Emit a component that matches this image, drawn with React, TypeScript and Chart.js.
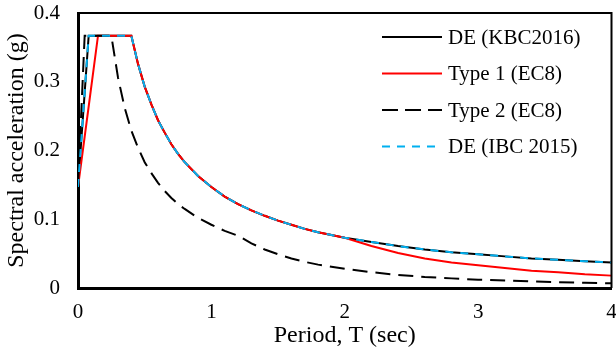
import React, { useEffect, useRef } from "react";
import { Chart, registerables } from "chart.js";

Chart.register(...registerables);

// Period T (sec)
const periods = [0, 0.05, 0.08, 0.15, 0.25, 0.3, 0.35, 0.4, 0.45, 0.5, 0.55, 0.6, 0.65, 0.7, 0.75, 0.8, 0.9, 1.0, 1.1, 1.2, 1.3, 1.4, 1.5, 1.6, 1.7, 1.8, 1.9, 2.0, 2.2, 2.4, 2.6, 2.8, 3.0, 3.2, 3.4, 3.6, 3.8, 4.0];

const seriesNames = ["DE (KBC2016)", "Type 1 (EC8)", "Type 2 (EC8)", "DE (IBC 2015)"];

const deKBC2016 = [0.147, 0.284, 0.367, 0.367, 0.367, 0.367, 0.367, 0.367, 0.326, 0.293, 0.267, 0.244, 0.226, 0.209, 0.195, 0.183, 0.163, 0.147, 0.133, 0.122, 0.113, 0.105, 0.098, 0.092, 0.086, 0.081, 0.077, 0.073, 0.067, 0.061, 0.056, 0.052, 0.049, 0.046, 0.043, 0.041, 0.039, 0.037];

const type1EC8 = [0.147, 0.220, 0.264, 0.367, 0.367, 0.367, 0.367, 0.367, 0.326, 0.293, 0.267, 0.244, 0.226, 0.209, 0.195, 0.183, 0.163, 0.147, 0.133, 0.122, 0.113, 0.105, 0.098, 0.092, 0.086, 0.081, 0.077, 0.073, 0.061, 0.051, 0.043, 0.037, 0.033, 0.029, 0.025, 0.023, 0.020, 0.018];

const type2EC8 = [0.147, 0.367, 0.367, 0.367, 0.367, 0.306, 0.262, 0.229, 0.204, 0.183, 0.167, 0.153, 0.141, 0.131, 0.122, 0.115, 0.102, 0.092, 0.083, 0.076, 0.065, 0.056, 0.049, 0.043, 0.038, 0.034, 0.031, 0.028, 0.023, 0.019, 0.016, 0.014, 0.012, 0.011, 0.0095, 0.0085, 0.0076, 0.0069];

const deIBC2015 = [0.147, 0.284, 0.367, 0.367, 0.367, 0.367, 0.367, 0.367, 0.326, 0.293, 0.267, 0.244, 0.226, 0.209, 0.195, 0.183, 0.163, 0.147, 0.133, 0.122, 0.113, 0.105, 0.098, 0.092, 0.086, 0.081, 0.077, 0.073, 0.067, 0.061, 0.056, 0.052, 0.049, 0.046, 0.043, 0.041, 0.039, 0.037];

const xTicks = [0, 1, 2, 3, 4];
const yTicks = [0, 0.1, 0.2, 0.3, 0.4];

const FONT = "'Liberation Serif', 'Times New Roman', serif";

const toPoints = (vals: number[]) => periods.map((t, i) => ({ x: t, y: vals[i] }));

const frameLegendPlugin = {
  id: "frameLegend",
  afterDatasetsDraw(chart: any) {
    const { ctx, chartArea } = chart;
    const { left, right, top, bottom } = chartArea;
    ctx.save();
    // top and right frame
    ctx.strokeStyle = "#000";
    ctx.lineWidth = 2;
    ctx.setLineDash([]);
    ctx.beginPath();
    ctx.moveTo(left, top);
    ctx.lineTo(right, top);
    ctx.lineTo(right, bottom);
    ctx.stroke();

    // legend
    const lineX0 = 382;
    const lineX1 = 442;
    const textX = 448;
    const rowY0 = 37;
    const rowStep = 36.5;
    ctx.font = `21px ${FONT}`;
    ctx.textBaseline = "middle";
    ctx.textAlign = "left";
    chart.data.datasets.forEach((ds: any, i: number) => {
      const y = rowY0 + i * rowStep;
      ctx.strokeStyle = ds.borderColor;
      ctx.lineWidth = ds.borderWidth;
      ctx.setLineDash(ds.legendDash || ds.borderDash || []);
      ctx.beginPath();
      ctx.moveTo(lineX0, y);
      ctx.lineTo(lineX1, y);
      ctx.stroke();
      ctx.setLineDash([]);
      ctx.fillStyle = "#000";
      ctx.fillText(ds.label, textX, y + 1);
    });
    ctx.restore();
  },
};

export default function App() {
  const canvasRef = useRef<HTMLCanvasElement | null>(null);

  useEffect(() => {
    document.body.style.margin = "0";
    const canvas = canvasRef.current;
    if (!canvas) return;
    const chart = new Chart(canvas, {
      type: "line",
      data: {
        datasets: [
          {
            label: seriesNames[0],
            data: toPoints(deKBC2016),
            borderColor: "#000000",
            borderWidth: 2,
            borderDash: [],
            pointRadius: 0,
            fill: false,
            order: 3,
          },
          {
            label: seriesNames[1],
            data: toPoints(type1EC8),
            borderColor: "#FF0000",
            borderWidth: 2,
            borderDash: [],
            pointRadius: 0,
            fill: false,
            order: 2,
          },
          {
            label: seriesNames[2],
            data: toPoints(type2EC8),
            borderColor: "#000000",
            borderWidth: 2,
            borderDash: [15, 8],
            legendDash: [16, 7],
            pointRadius: 0,
            fill: false,
            order: 1,
          } as any,
          {
            label: seriesNames[3],
            data: toPoints(deIBC2015),
            borderColor: "#00B0F0",
            borderWidth: 2,
            borderDash: [8, 7],
            pointRadius: 0,
            fill: false,
            order: 0,
          },
        ],
      },
      options: {
        animation: false,
        responsive: false,
        maintainAspectRatio: false,
        events: [],
        layout: { padding: { left: 0, right: 4.5, top: 13, bottom: 0 } },
        plugins: {
          legend: { display: false },
          tooltip: { enabled: false },
        },
        scales: {
          x: {
            type: "linear",
            min: 0,
            max: 4,
            afterBuildTicks: (scale: any) => {
              scale.ticks = xTicks.map((v) => ({ value: v }));
            },
            afterFit: (scale: any) => {
              scale.height = 67;
              scale.paddingLeft = 0;
              scale.paddingRight = 0;
            },
            ticks: {
              color: "#000",
              font: { family: FONT, size: 21 },
              padding: 12,
              maxRotation: 0,
              autoSkip: false,
            },
            grid: { display: false, drawTicks: false },
            border: { display: true, color: "#000", width: 3 },
            title: {
              display: true,
              text: "Period, T (sec)",
              color: "#000",
              font: { family: FONT, size: 24 },
              padding: { top: 0, bottom: 5 },
            },
          },
          y: {
            type: "linear",
            min: 0,
            max: 0.4,
            afterBuildTicks: (scale: any) => {
              scale.ticks = yTicks.map((v) => ({ value: v }));
            },
            afterFit: (scale: any) => {
              scale.width = 78;
              scale.paddingTop = 0;
              scale.paddingBottom = 0;
            },
            ticks: {
              color: "#000",
              font: { family: FONT, size: 21 },
              padding: 18,
              autoSkip: false,
              callback: (v: any) => String(Math.round(Number(v) * 10) / 10),
            },
            grid: { display: false, drawTicks: false },
            border: { display: true, color: "#000", width: 3 },
            title: {
              display: true,
              text: "Spectral acceleration (g)",
              color: "#000",
              font: { family: FONT, size: 24 },
              padding: { top: 2.5, bottom: 0 },
            },
          },
        },
      },
      plugins: [frameLegendPlugin],
    });
    return () => chart.destroy();
  }, []);

  return (
    <div style={{ position: "absolute", left: 0, top: 0, width: 616, height: 355, background: "#fff" }}>
      <canvas ref={canvasRef} width={616} height={355} style={{ display: "block", width: 616, height: 355 }} />
    </div>
  );
}
